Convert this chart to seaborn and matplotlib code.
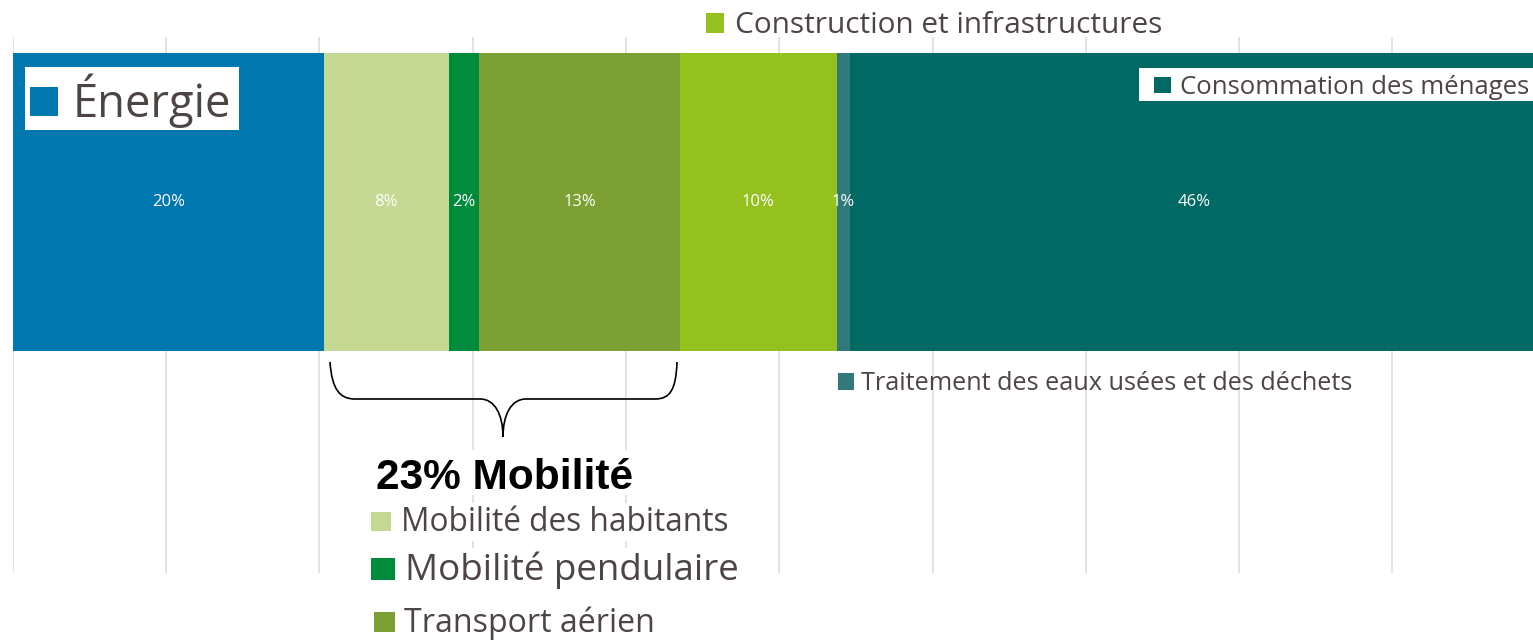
import numpy as np
import pandas as pd
import matplotlib
matplotlib.use("Agg")
import matplotlib.pyplot as plt
import seaborn as sns
from matplotlib.patches import Rectangle, PathPatch
from matplotlib.path import Path

# ---------------- data ----------------
categories = ["Énergie", "Mobilité des habitants", "Mobilité pendulaire",
              "Transport aérien", "Construction et infrastructures",
              "Traitement des eaux usées et des déchets", "Consommation des ménages"]
values = [20.3, 8.15, 2.0, 13.05, 10.25, 0.85, 44.9]
value_labels = ["20%", "8%", "2%", "13%", "10%", "1%", "46%"]
colors = ["#0077ae", "#c5d994", "#008a3b", "#7ca034", "#95c11f", "#32797c", "#006963"]
grid_ticks = list(range(0, 100, 10))
group_label = "23% Mobilité"

W, H = 1533, 641
sns.set_theme(style="white")
plt.rcParams["font.family"] = ["Open Sans", "DejaVu Sans"]

fig = plt.figure(figsize=(W / 100, H / 100), dpi=100)
ax = fig.add_axes([12.7 / W, (H - 573) / H, (W - 12.7) / W, (573 - 37) / H])

cum = np.cumsum(values)
df = pd.DataFrame({"cat": categories, "value": values, "cum": cum, "color": colors})

# stacked bar: draw cumulative totals from largest to smallest
for i in range(len(df) - 1, -1, -1):
    sns.barplot(x=[df["cum"][i]], y=["total"], orient="h", color=df["color"][i],
                saturation=1, width=1.0, linewidth=0, ax=ax)

for i in range(len(df)):
    ax.text(df["cum"][i] - df["value"][i] / 2, 0, value_labels[i], color="white",
            ha="center", va="center", fontsize=12, zorder=5)

ax.set_xlim(0, (W - 12.7) / 15.33)
ax.set_ylim(1.245, -0.554)
ax.set_xticks(grid_ticks)
ax.set_xticklabels([])
ax.set_yticks([])
ax.tick_params(length=0)
ax.set_xlabel("")
ax.set_ylabel("")
ax.grid(axis="x", color="#dedede", lw=1.2)
ax.grid(axis="y", visible=False)
ax.set_axisbelow(True)
for s in ax.spines.values():
    s.set_visible(False)

TXT = "#4d4544"

def fx(x):
    return x / W

def fy(y):
    return 1 - y / H

def box(x0, y0, x1, y1, color, z=6):
    fig.patches.append(Rectangle((fx(x0), fy(y1)), (x1 - x0) / W, (y1 - y0) / H,
                                 transform=fig.transFigure, facecolor=color,
                                 edgecolor="none", zorder=z))

def label(x, y, s, size, **kw):
    fig.text(fx(x), fy(y), s, fontsize=size, color=kw.pop("color", TXT),
             ha="left", va="baseline", zorder=8, **kw)

# Énergie
box(25, 67, 239, 130, "white")
box(30, 87, 58, 116, colors[0], 7)
label(73, 117, categories[0], 32.7)

# Construction
box(706, 13, 724, 33, colors[4], 7)
label(735, 33, categories[4], 21.4)

# Consommation
box(1139, 68, 1540, 101, "white")
box(1154, 77, 1171, 93, colors[6], 7)
label(1180, 94, categories[6], 18.5)

# Traitement
box(838, 373, 854, 390, colors[5], 7)
label(861, 390, categories[5], 18.2)

# Mobilité group
box(366, 450, 640, 495, "white")
fig.text(fx(376), fy(489), group_label, fontsize=30.5, fontweight="bold",
         family=["Liberation Sans", "DejaVu Sans"], color="black",
         ha="left", va="baseline", zorder=8)
box(366, 503, 740, 541, "white")
box(371, 512, 391, 531, colors[1], 7)
label(401, 531, categories[1], 22.8)
box(366, 548, 750, 590, "white")
box(371, 558, 395, 580, colors[2], 7)
label(405, 580, categories[2], 26.5)
box(366, 600, 665, 641, "white")
box(374, 612, 395, 632, colors[3], 7)
label(404, 632, categories[3], 23.1)

# brace under the mobility segments
verts_px = [(330, 362), (332, 390), (340, 399), (355, 399), (480, 399),
            (495, 399), (503, 415), (503, 437),
            (503, 415), (511, 399), (526, 399), (655, 399),
            (670, 399), (676, 390), (677, 362)]
codes = [Path.MOVETO, Path.CURVE4, Path.CURVE4, Path.CURVE4, Path.LINETO,
         Path.CURVE4, Path.CURVE4, Path.CURVE4,
         Path.CURVE4, Path.CURVE4, Path.CURVE4, Path.LINETO,
         Path.CURVE4, Path.CURVE4, Path.CURVE4]
verts = [(fx(x), fy(y)) for x, y in verts_px]
fig.patches.append(PathPatch(Path(verts, codes), transform=fig.transFigure,
                             facecolor="none", edgecolor="black", lw=1.2, zorder=9))

fig.savefig("out.png", dpi=100)
